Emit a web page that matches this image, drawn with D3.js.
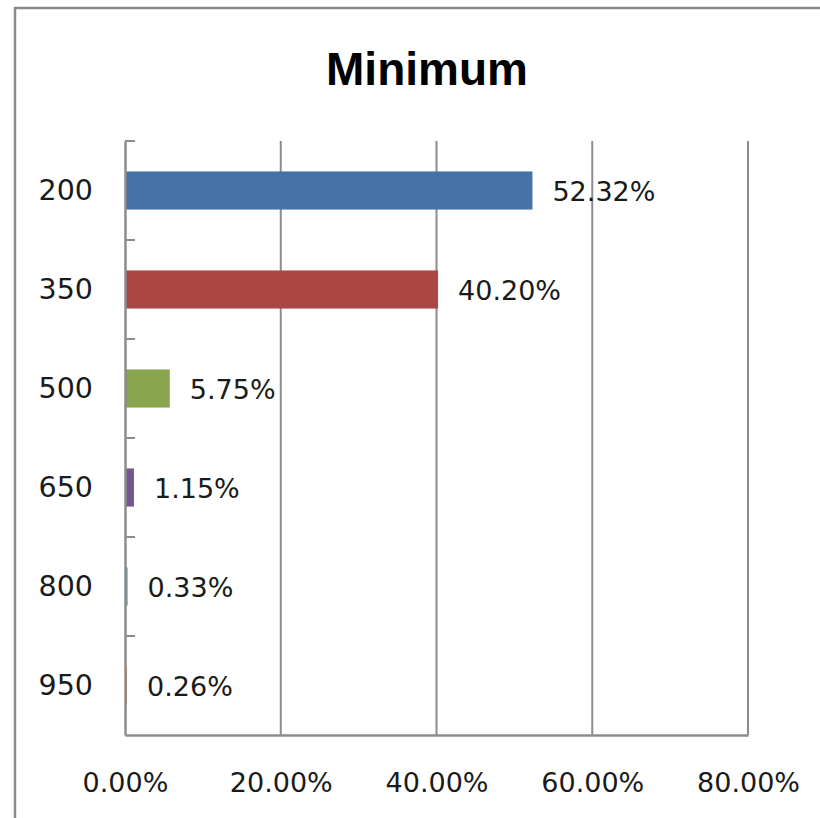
<!DOCTYPE html>
<html>
<head>
<meta charset="utf-8">
<script src="https://cdn.jsdelivr.net/npm/d3@7"></script>
<style>
  html, body { margin: 0; padding: 0; background: #fff; }
  svg { display: block; }
</style>
</head>
<body>
<svg id="chart" width="820" height="818"></svg>
<script>
// ---- data ----
const title = "Minimum";
const categories = ["200", "350", "500", "650", "800", "950"];
const values = [52.32, 40.20, 5.75, 1.15, 0.33, 0.26];
const valueLabels = ["52.32%", "40.20%", "5.75%", "1.15%", "0.33%", "0.26%"];
const barColors = ["#4572A7", "#AA4643", "#89A54E", "#71588F", "#4198AF", "#DB843D"];
const xTicks = [0, 20, 40, 60, 80];
const xTickLabels = ["0.00%", "20.00%", "40.00%", "60.00%", "80.00%"];

// ---- layout ----
const svg = d3.select("#chart");
const plot = { left: 125, right: 748, top: 141, bottom: 735 };
const gridColor = "#8c8c8c";
const textColor = "#1a1a1a";
const labelFont = "DejaVu Sans, Verdana, sans-serif";

const x = d3.scaleLinear().domain([0, 80]).range([plot.left, plot.right]);
const y = d3.scaleBand().domain(categories).range([plot.top, plot.bottom]).paddingInner(0.615).paddingOuter(0.3075);
const yBounds = d3.scaleBand().domain(categories).range([plot.top, plot.bottom]);

// outer frame
svg.append("path")
  .attr("d", "M15,830 L15,8 L830,8")
  .attr("fill", "none")
  .attr("stroke", "#8a8a8a")
  .attr("stroke-width", 2.5);

// title
svg.append("text")
  .attr("x", 427)
  .attr("y", 85)
  .attr("text-anchor", "middle")
  .attr("font-family", "Liberation Sans, Arial, sans-serif")
  .attr("font-weight", "bold")
  .attr("font-size", 46)
  .attr("fill", "#000")
  .text(title);

// vertical gridlines
svg.append("g").selectAll("line")
  .data(xTicks.filter(t => t > 0))
  .join("line")
  .attr("x1", d => x(d)).attr("x2", d => x(d))
  .attr("y1", plot.top).attr("y2", plot.bottom)
  .attr("stroke", gridColor)
  .attr("stroke-width", 2);

// bars
svg.append("g").selectAll("rect")
  .data(categories)
  .join("rect")
  .attr("x", x(0))
  .attr("y", d => y(d))
  .attr("width", (d, i) => x(values[i]) - x(0))
  .attr("height", y.bandwidth())
  .attr("fill", (d, i) => barColors[i]);

// x axis (bottom line + labels)
const xAxis = d3.axisBottom(x)
  .tickValues(xTicks)
  .tickSize(0)
  .tickPadding(38)
  .tickFormat((d, i) => xTickLabels[i]);
const gx = svg.append("g")
  .attr("transform", `translate(0,${plot.bottom})`)
  .call(xAxis);
gx.select(".domain").attr("stroke", gridColor).attr("stroke-width", 2.5);
gx.selectAll("text")
  .attr("font-family", labelFont)
  .attr("font-size", 27)
  .attr("fill", textColor);

// y axis
const yAxis = d3.axisLeft(y).tickSize(0).tickPadding(32);
const gy = svg.append("g")
  .attr("transform", `translate(${plot.left},0)`)
  .call(yAxis);
gy.select(".domain").attr("stroke", gridColor).attr("stroke-width", 2.5);
gy.selectAll("text")
  .attr("font-family", labelFont)
  .attr("font-size", 28.5)
  .attr("fill", textColor);

// y tick marks at category boundaries (inside)
const boundaries = categories.map(c => yBounds(c));
svg.append("g").selectAll("line")
  .data(boundaries)
  .join("line")
  .attr("x1", plot.left).attr("x2", plot.left + 10)
  .attr("y1", d => d).attr("y2", d => d)
  .attr("stroke", gridColor)
  .attr("stroke-width", 2);

// value labels
svg.append("g").selectAll("text")
  .data(categories)
  .join("text")
  .attr("x", (d, i) => x(values[i]) + 20)
  .attr("y", d => y(d) + y.bandwidth() / 2 + 1)
  .attr("dy", "0.36em")
  .attr("font-family", labelFont)
  .attr("font-size", 27)
  .attr("fill", textColor)
  .text((d, i) => valueLabels[i]);
</script>
</body>
</html>
